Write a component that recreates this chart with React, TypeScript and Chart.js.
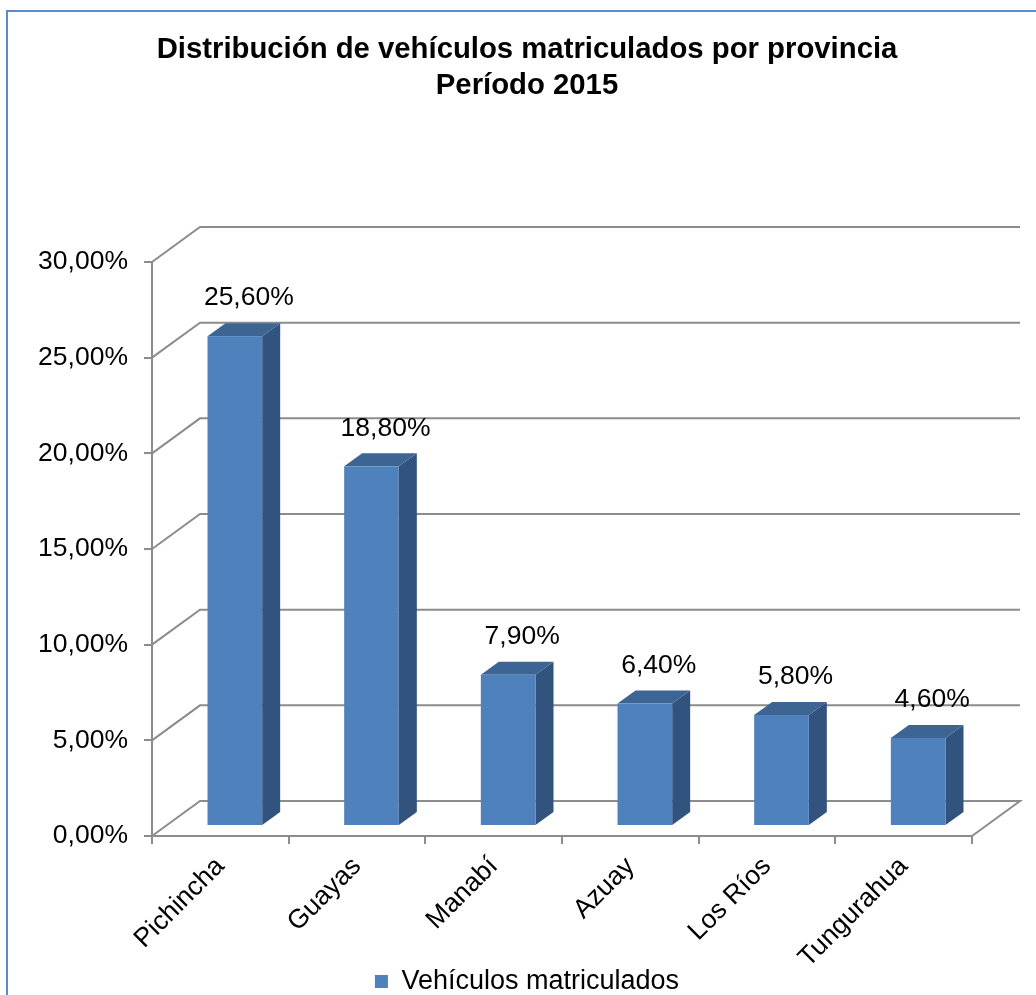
import React, { useEffect, useRef } from 'react';
import { Chart, registerables } from 'chart.js';

Chart.register(...registerables);

const categories = ['Pichincha', 'Guayas', 'Manabí', 'Azuay', 'Los Ríos', 'Tungurahua'];
const seriesName = 'Vehículos matriculados';
const values = [25.6, 18.8, 7.9, 6.4, 5.8, 4.6];
const yTicks = [0, 5, 10, 15, 20, 25, 30];
const titleLines = ['Distribución de vehículos matriculados por provincia', 'Período 2015'];

const FAMILY = 'Arial, "Liberation Sans", Helvetica, sans-serif';
const GRID = '#8c8c8c';
const FRONT = '#4f81bd';
const TOP = '#3c6594';
const SIDE = '#32537d';

const WALL = { dx: 48, dy: -35 };
const BAR = { sx: 14.5, sy: -10, dx: 18, dy: -13 };
const LABEL = { dx: 14, dy: -38 };

const fmt = (v: number) => v.toFixed(2).replace('.', ',') + '%';

const threeD = {
  id: 'threeD',
  beforeDatasetsDraw(chart: any) {
    const { ctx, chartArea, scales } = chart;
    const y = scales.y;
    ctx.save();
    ctx.strokeStyle = GRID;
    ctx.lineWidth = 2;
    ctx.lineJoin = 'miter';
    y.ticks.forEach((t: any) => {
      const py = y.getPixelForValue(t.value);
      ctx.beginPath();
      ctx.moveTo(chartArea.left, py);
      ctx.lineTo(chartArea.left + WALL.dx, py + WALL.dy);
      ctx.lineTo(chartArea.right + WALL.dx, py + WALL.dy);
      if (t.value === y.min) ctx.lineTo(chartArea.right, py);
      ctx.stroke();
    });
    ctx.restore();
  },
  beforeDatasetDraw() {
    return false;
  },
  afterDatasetsDraw(chart: any) {
    const { ctx } = chart;
    const meta = chart.getDatasetMeta(0);
    ctx.save();
    meta.data.forEach((bar: any, i: number) => {
      const { x, y, base, width } = bar.getProps(['x', 'y', 'base', 'width'], true);
      const xl = x - width / 2 + BAR.sx;
      const xr = x + width / 2 + BAR.sx;
      const yt = y + BAR.sy;
      const yb = base + BAR.sy;
      // side face
      ctx.fillStyle = SIDE;
      ctx.beginPath();
      ctx.moveTo(xr, yt);
      ctx.lineTo(xr + BAR.dx, yt + BAR.dy);
      ctx.lineTo(xr + BAR.dx, yb + BAR.dy);
      ctx.lineTo(xr, yb);
      ctx.closePath();
      ctx.fill();
      // top face
      ctx.fillStyle = TOP;
      ctx.beginPath();
      ctx.moveTo(xl, yt);
      ctx.lineTo(xl + BAR.dx, yt + BAR.dy);
      ctx.lineTo(xr + BAR.dx, yt + BAR.dy);
      ctx.lineTo(xr, yt);
      ctx.closePath();
      ctx.fill();
      // front face
      ctx.fillStyle = FRONT;
      ctx.fillRect(xl, yt, xr - xl, yb - yt);
      // data label
      ctx.fillStyle = '#000';
      ctx.font = `26.5px ${FAMILY}`;
      ctx.textAlign = 'center';
      ctx.textBaseline = 'middle';
      ctx.fillText(fmt(values[i]), x + BAR.sx + LABEL.dx, yt + LABEL.dy);
    });
    ctx.restore();
  },
};

export default function App() {
  const ref = useRef<HTMLCanvasElement | null>(null);

  useEffect(() => {
    if (!ref.current) return;
    const chart = new Chart(ref.current, {
      type: 'bar',
      data: {
        labels: categories,
        datasets: [
          {
            label: seriesName,
            data: values,
            backgroundColor: FRONT,
            borderWidth: 0,
            barPercentage: 0.4,
            categoryPercentage: 1,
          },
        ],
      },
      options: {
        animation: false,
        responsive: false,
        events: [],
        layout: { padding: { left: 18, right: 0, top: 0, bottom: 0 } },
        scales: {
          x: {
            offset: true,
            grid: {
              offset: true,
              drawOnChartArea: false,
              drawTicks: true,
              tickLength: 8,
              color: GRID,
              lineWidth: 2,
            },
            border: { display: true, color: GRID, width: 2 },
            ticks: {
              maxRotation: 45,
              minRotation: 45,
              autoSkip: false,
              font: { size: 26.5, family: FAMILY },
              color: '#000',
              padding: 7,
            },
            afterFit: (s: any) => {
              s.height = 122;
              // let the rotated labels run past the axis box, as in the reference
              s._computeLabelArea = () => undefined;
            },
          },
          y: {
            min: 0,
            max: 30,
            afterBuildTicks: (s: any) => {
              s.ticks = yTicks.map((v) => ({ value: v }));
            },
            afterFit: (s: any) => {
              s.width = 134;
            },
            grid: {
              drawOnChartArea: false,
              drawTicks: true,
              tickLength: 8,
              color: GRID,
              lineWidth: 2,
            },
            border: { display: true, color: GRID, width: 2 },
            ticks: {
              callback: (v: any) => fmt(Number(v)),
              font: { size: 26.5, family: FAMILY },
              color: '#000',
              padding: 16,
            },
          },
          yR: {
            position: 'right',
            display: true,
            grid: { display: false },
            border: { display: false },
            ticks: { display: false },
            afterFit: (s: any) => {
              s.width = 64;
            },
          },
        },
        plugins: {
          title: {
            display: true,
            text: titleLines,
            color: '#000',
            font: { size: 29.3, weight: 'bold', family: FAMILY, lineHeight: '36px' },
            padding: { top: 32, bottom: 158 },
          },
          legend: {
            position: 'bottom',
            labels: {
              boxWidth: 13,
              boxHeight: 13,
              color: '#000',
              font: { size: 27, family: FAMILY },
              padding: 10,
            },
          },
          tooltip: { enabled: false },
        },
      } as any,
      plugins: [threeD],
    });
    return () => chart.destroy();
  }, []);

  return (
    <div
      style={{
        position: 'fixed',
        left: 0,
        top: 0,
        width: 1036,
        height: 995,
        overflow: 'hidden',
        background: '#fff',
      }}
    >
      <div
        style={{
          position: 'absolute',
          left: 6,
          top: 10,
          width: 1200,
          height: 1200,
          border: '2px solid #5b8bc9',
        }}
      />
      <canvas
        ref={ref}
        width={1036}
        height={1005}
        style={{ position: 'absolute', left: 0, top: 0, width: 1036, height: 1005 }}
      />
    </div>
  );
}
